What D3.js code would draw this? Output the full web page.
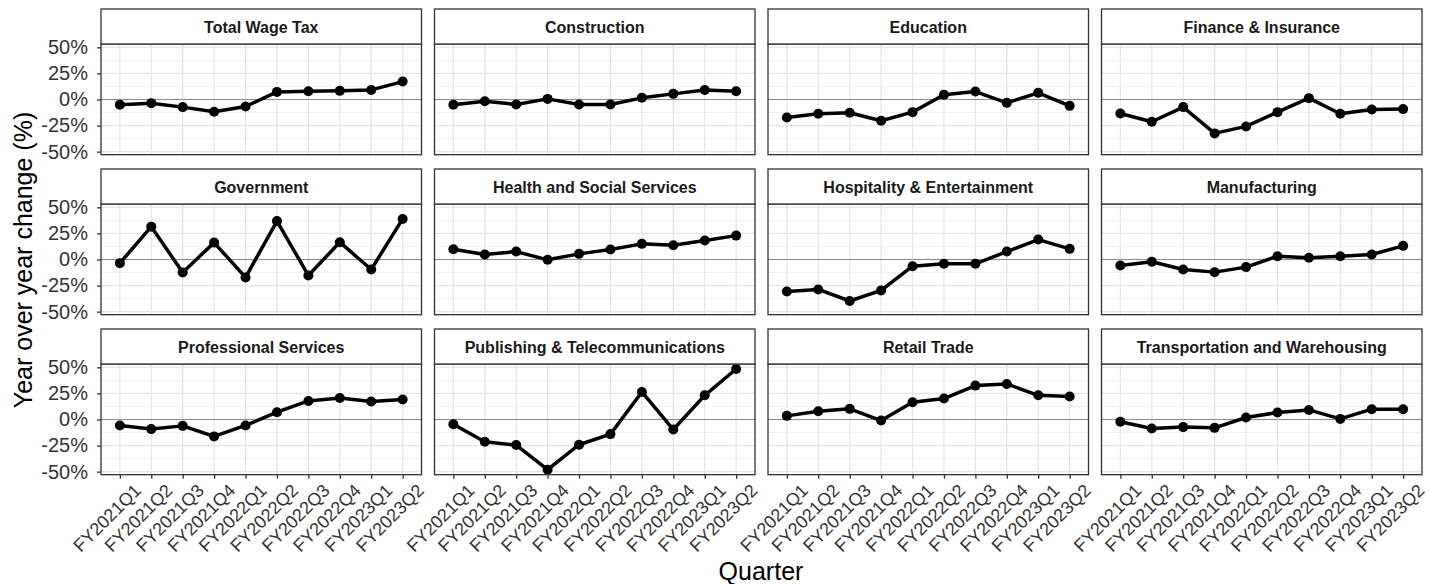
<!DOCTYPE html>
<html><head><meta charset="utf-8">
<script src="https://cdn.jsdelivr.net/npm/d3@7"></script>
<style>
body{margin:0;background:#fff;}
svg{display:block;font-family:"Liberation Sans",Arial,sans-serif;}
</style></head>
<body><svg id="chart" width="1430" height="584"></svg>
<script>
const quarters = ["FY2021Q1","FY2021Q2","FY2021Q3","FY2021Q4","FY2022Q1","FY2022Q2","FY2022Q3","FY2022Q4","FY2023Q1","FY2023Q2"];
const panels = ["Total Wage Tax","Construction","Education","Finance & Insurance","Government","Health and Social Services","Hospitality & Entertainment","Manufacturing","Professional Services","Publishing & Telecommunications","Retail Trade","Transportation and Warehousing"];
const totalWageTax = [-5.1,-3.5,-7.3,-11.8,-6.7,7.3,8.0,8.3,9.2,17.2];
const construction = [-5.1,-1.6,-4.8,0.6,-4.8,-4.8,1.6,5.4,9.2,8.0];
const education = [-17.2,-13.7,-12.7,-20.4,-12.1,4.5,7.6,-3.2,6.4,-6.1];
const financeInsurance = [-13.4,-21.3,-7.3,-32.5,-25.8,-12.1,1.3,-13.7,-9.6,-9.2];
const government = [-3.5,31.5,-12.4,16.2,-17.2,36.9,-15.3,16.6,-9.6,38.9];
const healthSocial = [9.9,4.8,7.6,-0.3,5.4,9.6,15.0,13.7,18.2,22.9];
const hospitality = [-30.6,-28.7,-39.8,-29.6,-6.4,-4.1,-4.1,7.6,19.1,10.2];
const manufacturing = [-5.7,-2.2,-9.6,-12.1,-7.3,3.2,1.6,3.2,4.8,13.1];
const professional = [-5.7,-9.2,-6.1,-16.2,-5.7,7.0,17.8,20.7,17.2,19.1];
const publishing = [-4.5,-21.3,-24.5,-48.1,-24.2,-14.0,26.4,-9.6,23.2,48.4];
const retailTrade = [3.5,8.0,10.2,-1.0,16.6,20.1,32.5,34.1,23.2,22.0];
const transportation = [-2.2,-8.6,-7.3,-8.0,1.9,6.7,9.2,0.6,9.9,9.9];
const yTicks = [-50,-25,0,25,50];
const yMinor = [-37.5,-12.5,12.5,37.5];
const seriesList = [totalWageTax,construction,education,financeInsurance,government,healthSocial,hospitality,manufacturing,professional,publishing,retailTrade,transportation];

const svg = d3.select("#chart");
const left0 = 101, colStep = 333.5, pw = 320.5;
const top0 = 9, rowStep = 160, stripH = 35, ph = 110.7;

const allVals = seriesList.flat();
const [mn, mx] = d3.extent(allVals);
const pad = (mx - mn) * 0.05;
const y = d3.scaleLinear().domain([mn - pad, mx + pad]).range([ph, 0]);
const x = d3.scalePoint().domain(quarters).range([0, pw]).padding(0.6);

const line = d3.line().x((d,i)=>x(quarters[i])).y(d=>y(d));

panels.forEach((name, k) => {
  const c = k % 4, r = Math.floor(k / 4);
  const px = left0 + c * colStep;
  const sy = top0 + r * rowStep;
  const py = sy + stripH;
  const g = svg.append("g").attr("transform", `translate(${px},${py})`);
  g.append("rect").attr("width", pw).attr("height", ph).attr("fill", "#fff");
  g.selectAll(".mn").data(yMinor).enter().append("line")
    .attr("x1",0).attr("x2",pw).attr("y1",d=>y(d)).attr("y2",d=>y(d))
    .attr("stroke","#ebebeb").attr("stroke-width",0.7);
  g.selectAll(".mj").data(yTicks).enter().append("line")
    .attr("x1",0).attr("x2",pw).attr("y1",d=>y(d)).attr("y2",d=>y(d))
    .attr("stroke","#e6e6e6").attr("stroke-width",1.3);
  g.selectAll(".vx").data(quarters).enter().append("line")
    .attr("x1",d=>x(d)).attr("x2",d=>x(d)).attr("y1",0).attr("y2",ph)
    .attr("stroke","#e6e6e6").attr("stroke-width",1.3);
  g.append("line").attr("x1",0).attr("x2",pw).attr("y1",y(0)).attr("y2",y(0))
    .attr("stroke","#8f8f8f").attr("stroke-width",1.2);
  const vals = seriesList[k];
  g.append("path").datum(vals).attr("d", line).attr("fill","none")
    .attr("stroke","#000").attr("stroke-width",3.5).attr("stroke-linejoin","round");
  g.selectAll(".pt").data(vals).enter().append("circle")
    .attr("cx",(d,i)=>x(quarters[i])).attr("cy",d=>y(d)).attr("r",5).attr("fill","#000");
  g.append("rect").attr("width", pw).attr("height", ph).attr("fill","none")
    .attr("stroke","#333").attr("stroke-width",1.3);
  const s = svg.append("g").attr("transform", `translate(${px},${sy})`);
  s.append("rect").attr("width", pw).attr("height", stripH).attr("fill","#fff")
    .attr("stroke","#333").attr("stroke-width",1.3);
  s.append("text").attr("x", pw/2).attr("y", stripH/2 + 1).attr("dy","0.36em")
    .attr("text-anchor","middle").attr("font-size",16).attr("font-weight","bold")
    .attr("fill","#1a1a1a").text(name);
  if (c === 0) {
    const ya = g.append("g").call(d3.axisLeft(y).tickValues(yTicks).tickSize(4).tickPadding(9).tickFormat(d=>d+"%"));
    ya.select(".domain").remove();
    ya.selectAll("line").attr("stroke","#333").attr("stroke-width",1.3);
    ya.selectAll("text").attr("font-size",20).attr("fill","#333").attr("font-family","Liberation Sans, Arial, sans-serif");
  }
  if (r === 2) {
    const xa = g.append("g").attr("transform",`translate(0,${ph})`)
      .call(d3.axisBottom(x).tickSize(4).tickPadding(3));
    xa.select(".domain").remove();
    xa.selectAll("line").attr("stroke","#333").attr("stroke-width",1.3);
    xa.selectAll("text").attr("font-size",18).attr("fill","#333")
      .attr("font-family","Liberation Sans, Arial, sans-serif")
      .attr("text-anchor","end").attr("dy","0.7em")
      .attr("transform","translate(8,3) rotate(-45)");
  }
});

svg.append("text").attr("transform","translate(32,260) rotate(-90)")
  .attr("text-anchor","middle").attr("font-size",25).attr("fill","#000")
  .text("Year over year change (%)");
svg.append("text").attr("x",761).attr("y",580)
  .attr("text-anchor","middle").attr("font-size",25).attr("fill","#000")
  .text("Quarter");
</script></body></html>
